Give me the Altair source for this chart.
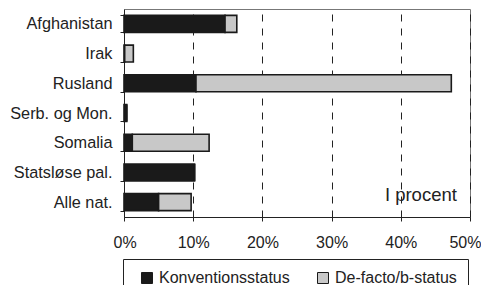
import altair as alt
import pandas as pd

categories = ["Afghanistan", "Irak", "Rusland", "Serb. og Mon.", "Somalia", "Statsløse pal.", "Alle nat."]
konventions = [14.6, 0.1, 10.4, 0.4, 1.2, 10.2, 5.0]
defacto = [1.7, 1.25, 36.9, 0.0, 11.1, 0.0, 4.7]
series = ["Konventionsstatus", "De-facto/b-status"]
x_ticks = [0, 10, 20, 30, 40, 50]
note_text = ["I procent"]
note_x = [37.7]

rows = []
for c, k, d in zip(categories, konventions, defacto):
    rows.append({"cat": c, "serie": series[0], "val": k, "ord": 0})
    rows.append({"cat": c, "serie": series[1], "val": d, "ord": 1})
df = pd.DataFrame(rows)

FONT = "Liberation Sans"
TXT = "#222222"

bars = alt.Chart(df).mark_bar(stroke="#1a1a1a", strokeWidth=1.6).encode(
    y=alt.Y(
        "cat:N", sort=categories, title=None,
        scale=alt.Scale(paddingInner=0.43, paddingOuter=0.215),
        axis=alt.Axis(tickBand="extent", tickSize=4, labelPadding=8, labelFontSize=16.3,
                      labelColor=TXT, domainColor=TXT, tickColor=TXT, labelFont=FONT,
                      grid=False),
    ),
    x=alt.X(
        "val:Q", stack="zero", title=None,
        scale=alt.Scale(domain=[0, 50], nice=False),
        axis=alt.Axis(values=x_ticks, labelExpr="datum.value + '%'", grid=True,
                      gridDash=[7, 7], gridColor=TXT, gridOpacity=1, tickSize=4,
                      labelPadding=13, labelFontSize=16, labelFont=FONT, labelColor=TXT,
                      domainColor=TXT, tickColor=TXT, labelFlush=True, labelFlushOffset=11),
    ),
    color=alt.Color(
        "serie:N",
        scale=alt.Scale(domain=series, range=["#1a1a1a", "#c8c8c8"]),
        legend=alt.Legend(orient="none", legendX=-1, legendY=250, direction="horizontal",
                          title=None, strokeColor=TXT, padding=11, symbolType="square",
                          symbolSize=121, symbolStrokeColor="#1a1a1a", symbolStrokeWidth=1,
                          labelFontSize=16, labelFont=FONT, labelColor=TXT,
                          columnPadding=20, labelOffset=4, symbolOffset=5, labelLimit=300),
    ),
    order=alt.Order("ord:Q"),
)

note = alt.Chart(pd.DataFrame({"t": note_text, "x": note_x})).mark_text(
    align="left", baseline="middle", fontSize=18.5, font=FONT, color=TXT
).encode(x="x:Q", y=alt.value(186), text="t:N")

chart = alt.layer(bars, note).properties(
    width=346, height=208,
    autosize=alt.AutoSizeParams(type="none"),
    padding={"left": 116, "top": 1, "right": 11, "bottom": 90},
).configure_view(stroke="#777777", strokeWidth=1)

chart.save("out.html", embed_options={"renderer": "svg", "actions": False})
